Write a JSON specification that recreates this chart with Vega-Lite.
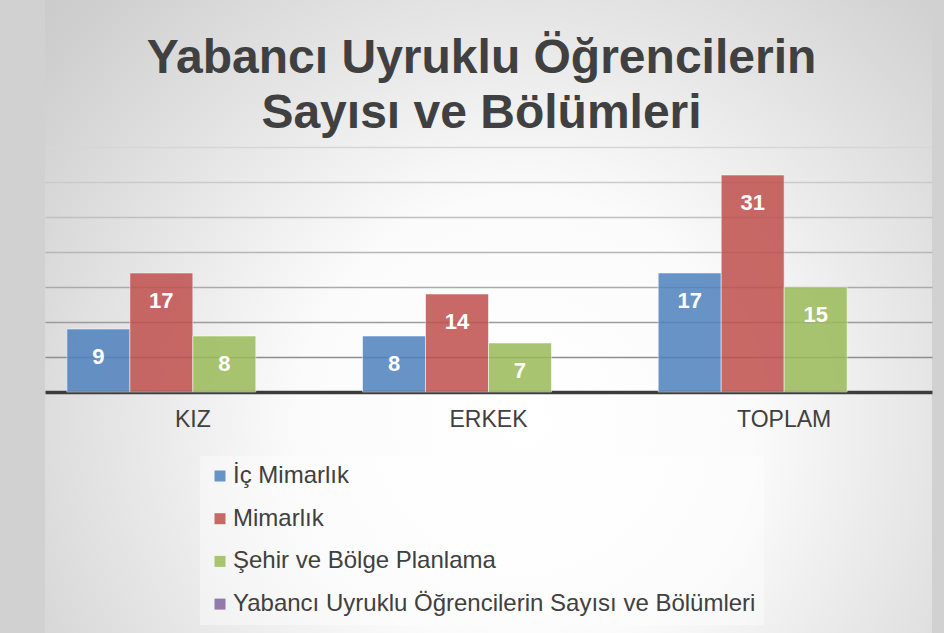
{
  "$schema": "https://vega.github.io/schema/vega-lite/v6.json",
  "autosize": {"type": "none"},
  "width": 887,
  "height": 633,
  "padding": {"left": 45, "right": 12, "top": 0, "bottom": 0},
  "background": "#d1d1d1",
  "title": {
    "text": ["Yabancı Uyruklu Öğrencilerin", "Sayısı ve Bölümleri"],
    "font": "Liberation Sans",
    "fontSize": 48,
    "fontWeight": "bold",
    "color": "#404040",
    "lineHeight": 55,
    "anchor": "middle",
    "offset": -138,
    "dx": -7
  },
  "config": {
    "view": {
      "stroke": null,
      "fill": {
        "gradient": "radial",
        "x1": 0.54, "y1": 0.62, "r1": 0,
        "x2": 0.54, "y2": 0.62, "r2": 0.85,
        "stops": [
          {"offset": 0, "color": "#ffffff"},
          {"offset": 0.3, "color": "#fbfbfb"},
          {"offset": 0.6, "color": "#e0e0e0"},
          {"offset": 0.8, "color": "#cecece"},
          {"offset": 1, "color": "#c4c4c4"}
        ]
      }
    }
  },
  "data": {
    "values": [
      {"grup": "KIZ", "bolum": "İç Mimarlık", "sayi": 9},
      {"grup": "KIZ", "bolum": "Mimarlık", "sayi": 17},
      {"grup": "KIZ", "bolum": "Şehir ve Bölge Planlama", "sayi": 8},
      {"grup": "ERKEK", "bolum": "İç Mimarlık", "sayi": 8},
      {"grup": "ERKEK", "bolum": "Mimarlık", "sayi": 14},
      {"grup": "ERKEK", "bolum": "Şehir ve Bölge Planlama", "sayi": 7},
      {"grup": "TOPLAM", "bolum": "İç Mimarlık", "sayi": 17},
      {"grup": "TOPLAM", "bolum": "Mimarlık", "sayi": 31},
      {"grup": "TOPLAM", "bolum": "Şehir ve Bölge Planlama", "sayi": 15}
    ]
  },
  "encoding": {
    "x": {
      "field": "grup",
      "type": "nominal",
      "sort": ["KIZ", "ERKEK", "TOPLAM"],
      "scale": {"paddingInner": 0.148, "paddingOuter": 0.074},
      "axis": {
        "title": null,
        "orient": "bottom",
        "offset": -241,
        "labelAngle": 0,
        "labelFont": "Liberation Sans",
        "labelFontSize": 23,
        "labelColor": "#404040",
        "labelPadding": 16,
        "ticks": false,
        "domain": true,
        "domainColor": "#3c3c3c",
        "domainWidth": 3.5,
        "grid": false
      }
    },
    "xOffset": {
      "field": "bolum",
      "type": "nominal",
      "sort": ["İç Mimarlık", "Mimarlık", "Şehir ve Bölge Planlama", "Yabancı Uyruklu Öğrencilerin Sayısı ve Bölümleri"],
      "scale": {
        "domain": ["İç Mimarlık", "Mimarlık", "Şehir ve Bölge Planlama", "Yabancı Uyruklu Öğrencilerin Sayısı ve Bölümleri"],
        "paddingInner": 0,
        "paddingOuter": 0
      }
    },
    "y": {
      "field": "sayi",
      "type": "quantitative",
      "scale": {"domain": [-34.43, 56], "nice": false, "zero": false},
      "axis": {
        "title": null,
        "labels": false,
        "ticks": false,
        "domain": false,
        "grid": true,
        "values": [5, 10, 15, 20, 25, 30, 35],
        "gridWidth": 1.4,
        "gridOpacity": 1,
        "gridColor": {
          "condition": [
            {"test": "datum.value >= 35", "value": "#d6d6d6"},
            {"test": "datum.value >= 30", "value": "#cacaca"},
            {"test": "datum.value >= 25", "value": "#c0c0c0"},
            {"test": "datum.value >= 20", "value": "#b6b6b6"},
            {"test": "datum.value >= 15", "value": "#aaaaaa"},
            {"test": "datum.value >= 10", "value": "#9c9c9c"}
          ],
          "value": "#8e8e8e"
        }
      }
    }
  },
  "layer": [
    {
      "mark": {"type": "bar", "opacity": 0.85, "stroke": "white", "strokeOpacity": 0.55, "strokeWidth": 1},
      "encoding": {
        "color": {
          "field": "bolum",
          "type": "nominal",
          "scale": {
            "domain": ["İç Mimarlık", "Mimarlık", "Şehir ve Bölge Planlama", "Yabancı Uyruklu Öğrencilerin Sayısı ve Bölümleri"],
            "range": ["#4f81bd", "#c0504d", "#9bbb59", "#8064a2"]
          },
          "legend": {
            "title": null,
            "orient": "none",
            "direction": "vertical",
            "legendX": 155,
            "legendY": 456,
            "padding": 8,
            "fillColor": "rgba(255,255,255,0.4)",
            "symbolType": "square",
            "symbolSize": 121,
            "symbolOpacity": 0.85,
            "symbolStrokeWidth": 0,
            "labelFont": "Liberation Sans",
            "labelFontSize": 24,
            "labelColor": "#404040",
            "labelLimit": 0,
            "labelOffset": 1,
            "rowPadding": 18.7
          }
        }
      }
    },
    {
      "mark": {"type": "text", "color": "white", "font": "Liberation Sans", "fontWeight": "bold", "fontSize": 22, "baseline": "alphabetic", "dy": 35},
      "encoding": {
        "text": {"field": "sayi", "type": "quantitative"}
      }
    }
  ]
}
